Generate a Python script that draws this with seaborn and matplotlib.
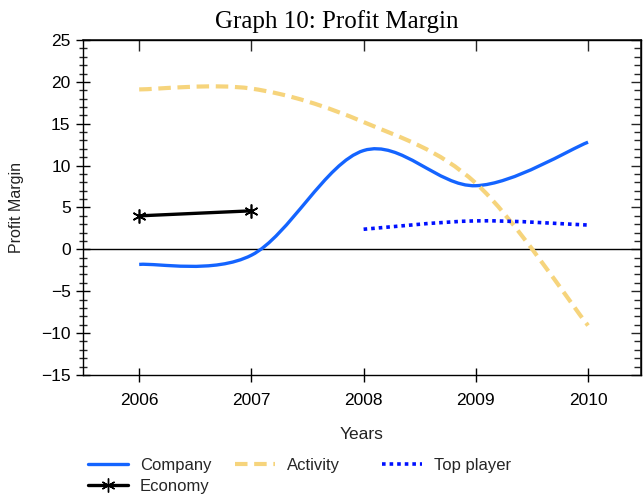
#!/usr/bin/env python3
"""Graph 10: Profit Margin, redrawn with seaborn/matplotlib."""

import matplotlib
matplotlib.use("Agg")
import matplotlib.pyplot as plt
import numpy as np
import pandas as pd
import seaborn as sns
from matplotlib.lines import Line2D
from matplotlib.patches import PathPatch
from matplotlib.path import Path
from matplotlib.ticker import MultipleLocator

years_company = [2006, 2007, 2008, 2009, 2010]
company = [-1.8, -0.7, 11.8, 7.6, 12.8]

years_activity = [2006, 2007, 2008, 2009, 2010]
activity = [19.1, 19.2, 15.2, 7.9, -9.1]

years_top = [2008, 2009, 2010]
top_player = [2.4, 3.4, 2.9]

years_economy = [2006, 2007]
economy = [4.0, 4.6]

BLUE = "#1464ff"
YELLOW = "#f6d47c"
DOT_BLUE = "#0010ff"


def smooth_path(xs, ys):
    # Excel style smoothed line: cubic Bezier segments through the data points
    pts = np.column_stack([xs, ys]).astype(float)
    verts = [pts[0]]
    codes = [Path.MOVETO]
    n = len(pts)
    for i in range(n - 1):
        p_prev = pts[i - 1] if i > 0 else pts[i]
        p_next2 = pts[i + 2] if i + 2 < n else pts[i + 1]
        c1 = pts[i] + (pts[i + 1] - p_prev) / 6.0
        c2 = pts[i + 1] - (p_next2 - pts[i]) / 6.0
        verts += [c1, c2, pts[i + 1]]
        codes += [Path.CURVE4] * 3
    return Path(verts, codes)


sns.set_theme(style="ticks")
plt.rcParams["font.family"] = ["Liberation Sans", "DejaVu Sans"]

fig = plt.figure(figsize=(6.44, 4.94), dpi=100)
ax = fig.add_axes([0.129, 0.241, 0.866, 0.678])

ax.axhline(0, color="black", lw=1.0, zorder=1)

smooth_styles = [
    (years_company, company, dict(color=BLUE, lw=2.4, ls="-")),
    (years_activity, activity, dict(color=YELLOW, lw=3.0, ls=(0, (3, 1.6)))),
    (years_top, top_player, dict(color=DOT_BLUE, lw=2.6, ls=(0, (1, 1.1)))),
]
for xs, ys, st in smooth_styles:
    patch = PathPatch(smooth_path(xs, ys), facecolor="none", edgecolor=st["color"],
                      lw=st["lw"], ls=st["ls"], zorder=3, capstyle="butt")
    ax.add_patch(patch)

econ_df = pd.DataFrame({"Year": years_economy, "Profit Margin": economy})
sns.lineplot(data=econ_df, x="Year", y="Profit Margin", ax=ax, color="black",
             lw=2.4, marker=(6, 2, 0), markersize=10, markeredgewidth=1.2,
             markeredgecolor="black", zorder=4)

ax.set_xlim(2005.5, 2010.47)
ax.set_ylim(-15, 25)
ax.set_xticks([2006, 2007, 2008, 2009, 2010])
ax.set_xticklabels(["2006", "2007", "2008", "2009", "2010"])
ax.yaxis.set_major_locator(MultipleLocator(5))
ax.yaxis.set_minor_locator(MultipleLocator(1))

for s in ax.spines.values():
    s.set_color("black")
    s.set_linewidth(1.0)

ax.tick_params(axis="y", which="major", direction="inout", length=10, width=1,
               labelsize=12.5, colors="black", pad=4)
ax.tick_params(axis="y", which="minor", direction="inout", length=6, width=1)
ax.tick_params(axis="x", which="major", direction="inout", length=10, width=1,
               labelsize=12.5, colors="black", pad=8)

# inward ticks on the top and right frame
top = ax.secondary_xaxis("top")
top.set_xticks([2006, 2007, 2008, 2009, 2010])
top.tick_params(direction="in", length=8, width=1, labeltop=False)
right = ax.secondary_yaxis("right")
right.yaxis.set_major_locator(MultipleLocator(5))
right.yaxis.set_minor_locator(MultipleLocator(1))
right.tick_params(which="major", direction="in", length=7, width=1, labelright=False)
right.tick_params(which="minor", direction="in", length=5, width=1)

ax.set_xlabel("Years", fontsize=12.5, color="#222222", labelpad=14)
ax.set_ylabel("Profit Margin", fontsize=11.5, color="#222222", labelpad=12)
ax.set_title("Graph 10: Profit Margin", family=["Liberation Serif", "DejaVu Serif"],
             fontsize=18, color="black", x=0.455, pad=9)

h_company = Line2D([], [], color=BLUE, lw=2.4)
h_economy = Line2D([], [], color="black", lw=2.4, marker=(6, 2, 0), markersize=10)
h_activity = Line2D([], [], color=YELLOW, lw=3.0, ls=(0, (3, 1.6)))
h_top = Line2D([], [], color=DOT_BLUE, lw=2.6, ls=(0, (1, 1.1)))

# three fixed legend columns, as in the original layout
legend_cols = [
    ([h_company, h_economy], ["Company", "Economy"], 0.137),
    ([h_activity], ["Activity"], 0.365),
    ([h_top], ["Top player"], 0.593),
]
for hs, ls, x0 in legend_cols:
    fig.legend(hs, ls, loc="upper left", bbox_to_anchor=(x0, 0.073),
               frameon=False, fontsize=12, handlelength=2.4, borderpad=0,
               borderaxespad=0, labelspacing=0.35, handletextpad=0.7)

fig.savefig("out.png", dpi=100)
